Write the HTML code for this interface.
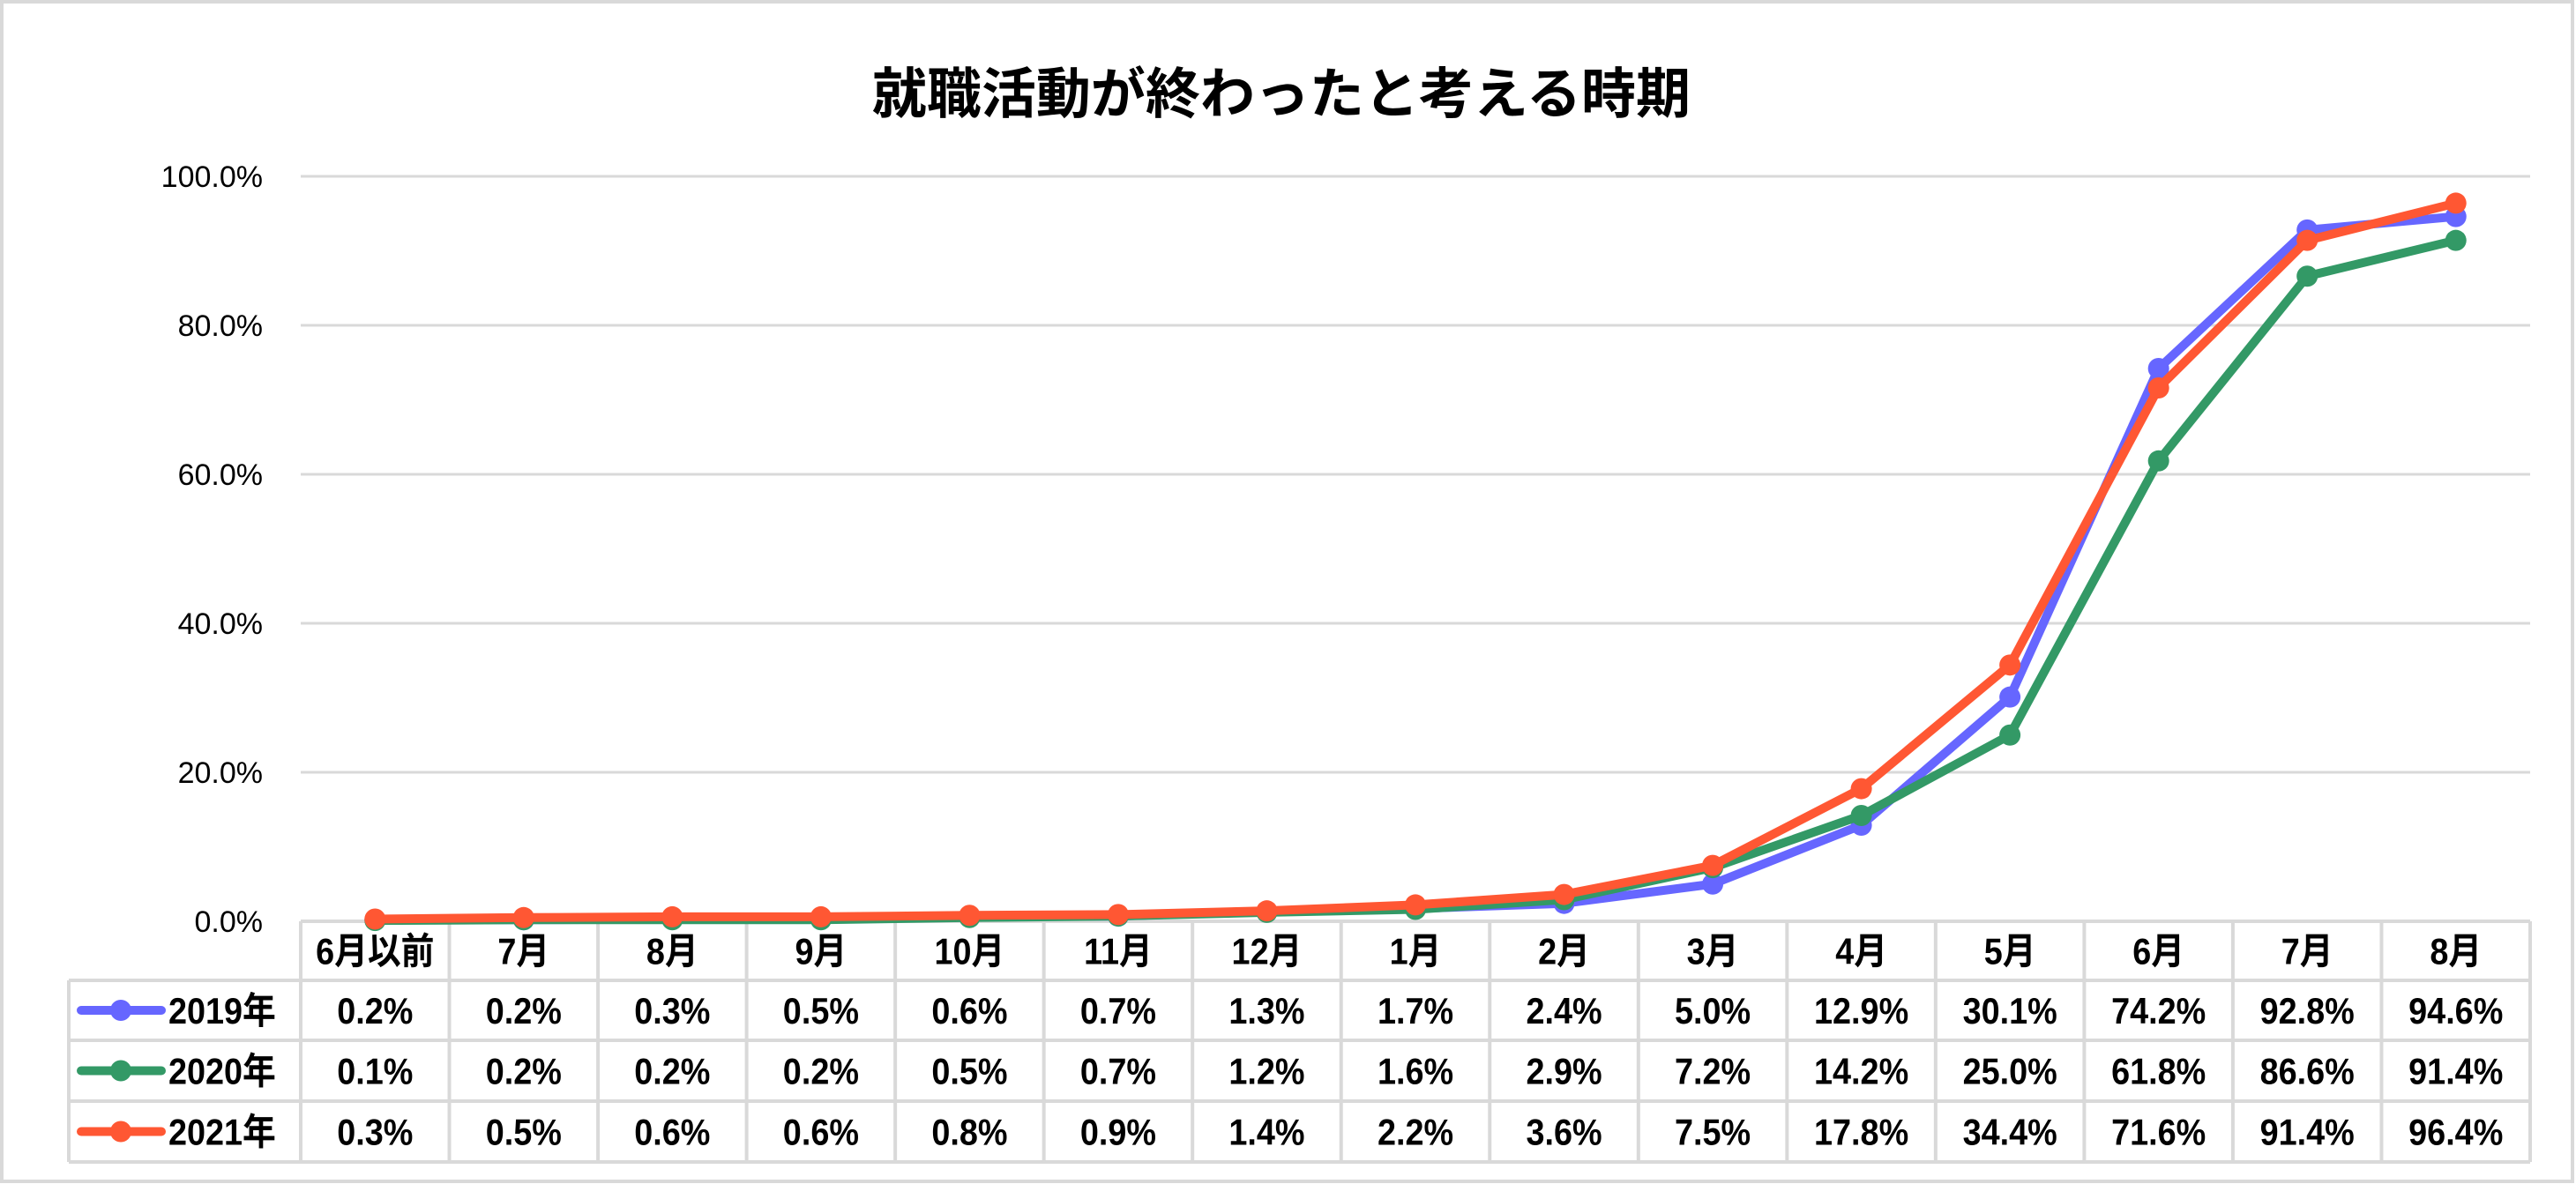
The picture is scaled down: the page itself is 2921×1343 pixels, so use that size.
<!DOCTYPE html>
<html><head><meta charset="utf-8">
<style>
html,body{margin:0;padding:0;background:#fff;}
svg{display:block;font-family:"Liberation Sans","Noto Sans CJK JP",sans-serif;}
</style></head>
<body>
<svg id="chart" width="2921" height="1343" viewBox="0 0 2921 1343" xmlns="http://www.w3.org/2000/svg">
<rect x="2" y="2" width="2915" height="1338" fill="#fff" stroke="#d9d9d9" stroke-width="4"/>
<text x="1453" y="128" text-anchor="middle" font-size="62" font-weight="bold" fill="#000">就職活動が終わったと考える時期</text>
<g id="grid"></g>
<g id="yaxis"></g>
<g id="table"></g>
<g id="series"></g>
</svg>
<script>
const categories = ["6月以前","7月","8月","9月","10月","11月","12月","1月","2月","3月","4月","5月","6月","7月","8月"];
const seriesNames = ["2019年","2020年","2021年"];
const s2019 = [0.2,0.2,0.3,0.5,0.6,0.7,1.3,1.7,2.4,5.0,12.9,30.1,74.2,92.8,94.6];
const s2020 = [0.1,0.2,0.2,0.2,0.5,0.7,1.2,1.6,2.9,7.2,14.2,25.0,61.8,86.6,91.4];
const s2021 = [0.3,0.5,0.6,0.6,0.8,0.9,1.4,2.2,3.6,7.5,17.8,34.4,71.6,91.4,96.4];
const yTicks = [0,20,40,60,80,100];

const NS="http://www.w3.org/2000/svg";
const colors=["#6666ff","#339966","#ff5733"];
const L=341,R=2869,T=200,B=1045;
const bw=(R-L)/categories.length;
const x=i=>L+bw*(i+0.5);
const y=v=>B-(v/100)*(B-T);
function mk(tag,parent){const e=document.createElementNS(NS,tag);parent.appendChild(e);return e;}
function place(t,px,py,anchor){t.setAttribute('x',0);t.setAttribute('y',0);t.setAttribute('transform','translate('+px+','+py+') scale(0.9,1)');if(anchor)t.setAttribute('text-anchor',anchor);t.setAttribute('font-size','42');t.setAttribute('font-weight','bold');}
const grid=document.getElementById('grid'),yax=document.getElementById('yaxis'),tbl=document.getElementById('table'),ser=document.getElementById('series');
yTicks.forEach(t=>{
  if(t>0){const g=mk('line',grid);
  
  
  g.setAttribute('x1',L);g.setAttribute('x2',R);g.setAttribute('y1',y(t));g.setAttribute('y2',y(t));g.setAttribute('stroke','#d9d9d9');g.setAttribute('stroke-width','3');}
  const tx=mk('text',yax);
  
  
  tx.setAttribute('x',298);tx.setAttribute('y',y(t)+12);tx.setAttribute('text-anchor','end');tx.setAttribute('font-size','34');
  tx.textContent=t.toFixed(1)+'%';
});
const rowY=[1045,1112,1180,1249,1318];
function ln(x1,y1,x2,y2){const l=mk('line',tbl);l.setAttribute('x1',x1);l.setAttribute('y1',y1);l.setAttribute('x2',x2);l.setAttribute('y2',y2);l.setAttribute('stroke','#d9d9d9');l.setAttribute('stroke-width','4');}
ln(L,rowY[0],R,rowY[0]);
for(let r=1;r<5;r++)ln(78,rowY[r],R,rowY[r]);
ln(78,rowY[1],78,rowY[4]);
for(let i=0;i<=categories.length;i++)ln(L+bw*i,rowY[0],L+bw*i,rowY[4]);
categories.forEach((c,i)=>{
  const t=mk('text',tbl);
  
  
  place(t,x(i),(rowY[0]+rowY[1])/2+15,'middle');
  t.textContent=c;
});
const all=[s2019,s2020,s2021];
all.forEach((s,k)=>{
  const cy=(rowY[k+1]+rowY[k+2])/2;
  const g=mk('g',tbl);
  
  
  const l=mk('line',g);l.setAttribute('x1',92);l.setAttribute('x2',183);l.setAttribute('y1',cy);l.setAttribute('y2',cy);l.setAttribute('stroke',colors[k]);l.setAttribute('stroke-width','10');l.setAttribute('stroke-linecap','round');
  const c=mk('circle',g);c.setAttribute('cx',137);c.setAttribute('cy',cy);c.setAttribute('r',12);c.setAttribute('fill',colors[k]);
  const t=mk('text',g);place(t,191,cy+15,null);t.textContent=seriesNames[k];
  s.forEach((v,i)=>{
    const tv=mk('text',tbl);
    
    
    place(tv,x(i),cy+15,'middle');
    tv.textContent=v.toFixed(1)+'%';
  });
});
all.forEach((s,k)=>{
  const g=mk('g',ser);
  
  
  const p=mk('polyline',g);
  
  
  p.setAttribute('points',s.map((v,i)=>x(i)+','+y(v)).join(' '));
  p.setAttribute('fill','none');p.setAttribute('stroke',colors[k]);p.setAttribute('stroke-width','10');p.setAttribute('stroke-linejoin','round');
  s.forEach((v,i)=>{
    const c=mk('circle',g);
    
    
    c.setAttribute('cx',x(i));c.setAttribute('cy',y(v));c.setAttribute('r',12);c.setAttribute('fill',colors[k]);
  });
});
</script>
</body></html>
